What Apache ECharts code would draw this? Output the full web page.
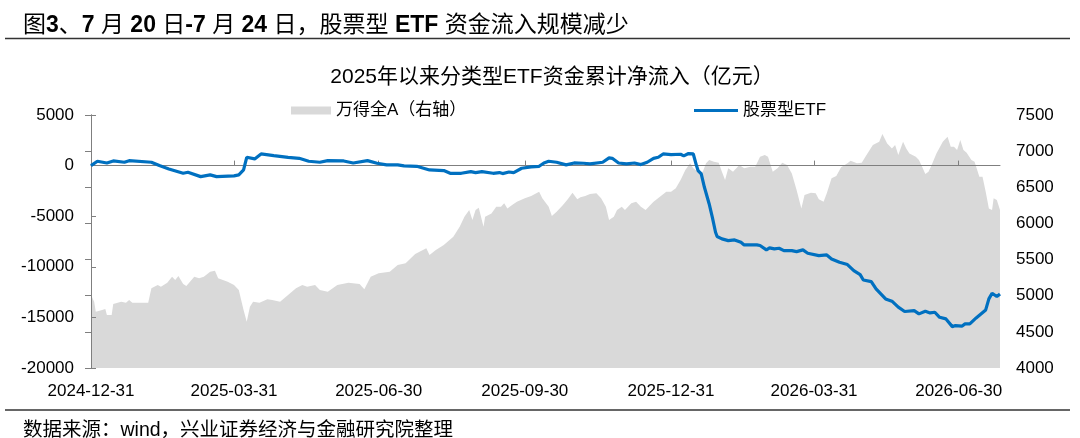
<!DOCTYPE html>
<html>
<head>
<meta charset="utf-8">
<script src="https://cdn.jsdelivr.net/npm/echarts@6/dist/echarts.min.js"></script>
<style>
html,body{margin:0;padding:0;background:#fff;}
#chart{width:1080px;height:438px;}
</style>
</head>
<body>
<div id="chart"></div>
<script>
// ---- data ----
const tickDates = ['2024-12-31','2025-03-31','2025-06-30','2025-09-30','2025-12-31','2026-03-31','2026-06-30'];
const axisStart = '2024-12-31';
const axisEnd = '2026-07-26';

// 股票型ETF 累计净流入（亿元，左轴）
const etfDates = [
 '2024-12-31','2025-01-04','2025-01-10','2025-01-14','2025-01-21','2025-01-24','2025-02-07','2025-02-12','2025-02-18','2025-02-27',
 '2025-03-02','2025-03-10','2025-03-16','2025-03-20','2025-03-31','2025-04-03','2025-04-06','2025-04-08','2025-04-13','2025-04-17',
 '2025-04-25','2025-05-04','2025-05-11','2025-05-17','2025-05-24','2025-05-29','2025-06-08','2025-06-14','2025-06-23','2025-06-29',
 '2025-07-05','2025-07-12','2025-07-16','2025-07-24','2025-08-01','2025-08-10','2025-08-14','2025-08-21','2025-08-27','2025-08-30',
 '2025-09-03','2025-09-10','2025-09-14','2025-09-16','2025-09-20','2025-09-23','2025-09-28','2025-10-04','2025-10-09','2025-10-12',
 '2025-10-15','2025-10-20','2025-10-26','2025-10-31','2025-11-06','2025-11-10','2025-11-18','2025-11-22','2025-11-24','2025-11-28',
 '2025-12-03','2025-12-08','2025-12-12','2025-12-16','2025-12-20','2025-12-23','2025-12-26','2025-12-31','2026-01-06','2026-01-08',
 '2026-01-11','2026-01-14','2026-01-16','2026-01-17','2026-01-19','2026-01-21','2026-01-24','2026-01-26','2026-01-28','2026-01-29',
 '2026-02-01','2026-02-05','2026-02-09','2026-02-13','2026-02-15','2026-02-23','2026-02-25','2026-03-01','2026-03-03','2026-03-06',
 '2026-03-09','2026-03-12','2026-03-17','2026-03-20','2026-03-24','2026-03-27','2026-04-03','2026-04-08','2026-04-11','2026-04-16',
 '2026-04-21','2026-04-25','2026-04-29','2026-05-01','2026-05-06','2026-05-09','2026-05-15','2026-05-19','2026-05-23','2026-05-27',
 '2026-06-02','2026-06-05','2026-06-09','2026-06-12','2026-06-15','2026-06-18','2026-06-22','2026-06-26','2026-06-28','2026-07-02',
 '2026-07-04','2026-07-07','2026-07-11','2026-07-17','2026-07-19','2026-07-21','2026-07-24','2026-07-26'
];
const etfValues = [
 0,430,260,460,330,490,330,0,-330,-760,
 -660,-1090,-920,-1090,-1020,-920,-430,820,660,1150,
 990,820,720,430,330,490,460,260,490,230,
 70,70,-30,-70,-430,-490,-760,-760,-590,-690,
 -590,-760,-690,-790,-630,-690,-260,-130,-70,260,
 430,330,70,260,230,165,330,760,720,260,
 165,260,100,330,720,820,1150,1090,1120,960,
 1190,1150,0,-490,-820,-2140,-3790,-5110,-6590,-7010,
 -7240,-7410,-7340,-7580,-7840,-7840,-7900,-8330,-8130,-8230,
 -8170,-8400,-8400,-8500,-8330,-8660,-8890,-8830,-9220,-9550,
 -9780,-10370,-10770,-11300,-11460,-12180,-13170,-13400,-13990,-14420,
 -14330,-14650,-14390,-14560,-14490,-14990,-15150,-15910,-15810,-15870,
 -15640,-15640,-15050,-14260,-13170,-12610,-12940,-12680
];

// 万得全A（右轴）
const indexDates = [
 '2024-12-31','2025-01-02','2025-01-03','2025-01-07','2025-01-09','2025-01-10','2025-01-13','2025-01-14','2025-01-19','2025-01-22',
 '2025-01-24','2025-01-26','2025-02-05','2025-02-07','2025-02-11','2025-02-13','2025-02-17','2025-02-20','2025-02-22','2025-02-24',
 '2025-02-27','2025-03-01','2025-03-06','2025-03-09','2025-03-12','2025-03-16','2025-03-19','2025-03-21','2025-03-27','2025-03-31',
 '2025-04-03','2025-04-06','2025-04-08','2025-04-10','2025-04-12','2025-04-16','2025-04-21','2025-04-24','2025-04-29','2025-05-04',
 '2025-05-09','2025-05-13','2025-05-16','2025-05-21','2025-05-24','2025-05-29','2025-06-04','2025-06-11','2025-06-18','2025-06-21',
 '2025-06-25','2025-06-30','2025-07-07','2025-07-12','2025-07-17','2025-07-23','2025-07-30','2025-08-01','2025-08-05','2025-08-10',
 '2025-08-16','2025-08-20','2025-08-23','2025-08-26','2025-08-28','2025-08-30','2025-09-01','2025-09-04','2025-09-05','2025-09-09',
 '2025-09-12','2025-09-15','2025-09-17','2025-09-19','2025-09-22','2025-09-25','2025-09-30','2025-10-04','2025-10-09','2025-10-11',
 '2025-10-15','2025-10-16','2025-10-17','2025-10-20','2025-10-24','2025-10-27','2025-10-30','2025-11-02','2025-11-04','2025-11-07',
 '2025-11-10','2025-11-14','2025-11-17','2025-11-20','2025-11-22','2025-11-25','2025-11-27','2025-11-30','2025-12-02','2025-12-06',
 '2025-12-09','2025-12-12','2025-12-15','2025-12-18','2025-12-20','2025-12-24','2025-12-28','2025-12-31','2026-01-03','2026-01-06',
 '2026-01-09','2026-01-12','2026-01-14','2026-01-17','2026-01-20','2026-01-22','2026-01-24','2026-01-27','2026-01-30','2026-02-01',
 '2026-02-03','2026-02-05','2026-02-08','2026-02-12','2026-02-15','2026-02-19','2026-02-22','2026-02-25','2026-02-28','2026-03-02',
 '2026-03-05','2026-03-08','2026-03-11','2026-03-14','2026-03-17','2026-03-20','2026-03-23','2026-03-25','2026-03-29','2026-04-01',
 '2026-04-03','2026-04-06','2026-04-08','2026-04-11','2026-04-14','2026-04-17','2026-04-21','2026-04-23','2026-04-27','2026-04-30',
 '2026-05-03','2026-05-07','2026-05-11','2026-05-13','2026-05-16','2026-05-19','2026-05-21','2026-05-23','2026-05-26','2026-05-28',
 '2026-05-30','2026-06-03','2026-06-05','2026-06-07','2026-06-09','2026-06-11','2026-06-13','2026-06-16','2026-06-20','2026-06-23',
 '2026-06-25','2026-06-27','2026-06-29','2026-07-01','2026-07-03','2026-07-05','2026-07-08','2026-07-10','2026-07-13','2026-07-15',
 '2026-07-17','2026-07-19','2026-07-21','2026-07-22','2026-07-24','2026-07-26'
];
const indexValues = [
 5010,4917,4779,4802,4816,4733,4733,4885,4917,4903,
 4940,4903,4903,5102,5148,5124,5180,5263,5217,5272,
 5162,5134,5263,5240,5263,5332,5346,5240,5194,5148,
 5079,4802,4640,4848,4917,4903,4950,4940,4917,5010,
 5102,5148,5124,5148,5079,5055,5148,5180,5162,5088,
 5263,5310,5332,5424,5448,5577,5655,5563,5632,5701,
 5816,5954,6093,6185,6047,6185,6217,5954,6093,6139,
 6231,6231,6278,6208,6254,6300,6347,6379,6438,6347,
 6231,6208,6102,6162,6254,6333,6424,6333,6361,6379,
 6406,6416,6347,6231,6047,6093,6185,6231,6185,6278,
 6300,6231,6185,6254,6300,6369,6438,6438,6485,6600,
 6738,6831,6762,6715,6715,6831,6877,6854,6840,6715,
 6600,6762,6715,6808,6762,6785,6785,6923,6946,6923,
 6715,6762,6840,6808,6692,6462,6208,6393,6424,6416,
 6333,6300,6416,6624,6655,6776,6831,6867,6831,6840,
 6946,7084,7130,7236,7107,7038,7084,6946,7130,7038,
 6969,6923,6877,6785,6683,6715,6808,6969,7130,7199,
 7061,7061,7015,7153,7015,6978,6877,6854,6646,6646,
 6438,6208,6185,6347,6324,6185
];

// ---- helpers ----
function dayOf(s){
  const p = s.split('-').map(Number);
  const a = axisStart.split('-').map(Number);
  return Math.round((Date.UTC(p[0],p[1]-1,p[2]) - Date.UTC(a[0],a[1]-1,a[2])) / 86400000);
}
function pairs(dates, vals){
  const n = Math.min(dates.length, vals.length);
  const out = [];
  for (let i = 0; i < n; i++) out.push([dayOf(dates[i]), vals[i]]);
  return out;
}
const tickDays = tickDates.map(dayOf);
const maxDay = dayOf(axisEnd);

const FONT = '"Liberation Sans", Arial, "Noto Sans CJK SC", sans-serif';
const AXIS_GRAY = '#7f7f7f';
const plain = function (v) { return String(v); };

const chart = echarts.init(document.getElementById('chart'));
chart.setOption({
  animation: false,
  backgroundColor: '#fff',
  textStyle: { fontFamily: FONT },
  title: [
    {
      left: 18, top: 7,
      text: '{n|图}{b|3}{n|、}{b|7 }{n|月 }{b|20 }{n|日}{b|-7 }{n|月 }{b|24 }{n|日，股票型 }{b|ETF }{n|资金流入规模减少}',
      textStyle: {
        rich: {
          n: { fontFamily: FONT, fontSize: 23, fontWeight: 'normal', color: '#000', lineHeight: 27 },
          b: { fontFamily: FONT, fontSize: 23, fontWeight: 'bold', color: '#000', lineHeight: 27 }
        }
      }
    },
    {
      left: 547, top: 61, textAlign: 'center',
      text: '2025年以来分类型ETF资金累计净流入（亿元）',
      textStyle: { fontFamily: FONT, fontSize: 21, fontWeight: 'normal', color: '#000', lineHeight: 23 }
    },
    {
      left: 18, top: 415,
      text: '数据来源：wind，兴业证券经济与金融研究院整理',
      textStyle: { fontFamily: FONT, fontSize: 19.5, fontWeight: 'normal', color: '#000', lineHeight: 22 }
    }
  ],
  graphic: [
    { type: 'line', shape: { x1: 5, y1: 38.5, x2: 1070, y2: 38.5 }, style: { stroke: '#333', lineWidth: 1.5 } },
    { type: 'line', shape: { x1: 5, y1: 410, x2: 1070, y2: 410 }, style: { stroke: '#333', lineWidth: 1.5 } }
  ],
  legend: [
    {
      left: 286, top: 97, icon: 'rect', itemWidth: 40, itemHeight: 8,
      data: ['万得全A（右轴）'],
      textStyle: { fontFamily: FONT, fontSize: 17, color: '#000' }
    },
    {
      left: 689, top: 97, icon: 'rect', itemWidth: 44, itemHeight: 3,
      data: ['股票型ETF'],
      textStyle: { fontFamily: FONT, fontSize: 17, color: '#000' }
    }
  ],
  grid: { left: 91, right: 80, top: 115, bottom: 70, containLabel: false },
  xAxis: [
    {
      type: 'value', min: 0, max: maxDay, z: 3,
      axisLine: { show: true, onZero: true, onZeroAxisIndex: 0, lineStyle: { color: AXIS_GRAY, width: 1 } },
      axisTick: { show: true, inside: true, length: 5, customValues: tickDays.slice(1), lineStyle: { color: AXIS_GRAY } },
      axisLabel: { show: false },
      splitLine: { show: false }
    },
    {
      type: 'value', min: 0, max: maxDay, position: 'bottom',
      axisLine: { show: false, onZero: false },
      axisTick: { show: false },
      axisLabel: {
        show: true, customValues: tickDays, showMinLabel: true, showMaxLabel: true,
        margin: 15, fontSize: 17, color: '#000', fontFamily: FONT,
        formatter: function (v) { const i = tickDays.indexOf(Math.round(v)); return i >= 0 ? tickDates[i] : ''; }
      },
      splitLine: { show: false }
    }
  ],
  yAxis: [
    {
      type: 'value', position: 'left', min: -20000, max: 5000, interval: 5000, z: 3,
      axisLine: { show: true, lineStyle: { color: AXIS_GRAY, width: 1 } },
      axisTick: { show: true, inside: true, length: 5, lineStyle: { color: AXIS_GRAY } },
      axisLabel: { margin: 17, fontSize: 17, color: '#000', fontFamily: FONT, formatter: plain },
      splitLine: { show: false }
    },
    {
      type: 'value', position: 'right', min: 4000, max: 7500, interval: 500, z: 3,
      axisLine: { show: true, lineStyle: { color: AXIS_GRAY, width: 1 } },
      axisTick: { show: true, inside: true, length: 6, lineStyle: { color: AXIS_GRAY } },
      axisLabel: { margin: 16, fontSize: 17, color: '#000', fontFamily: FONT, formatter: plain },
      splitLine: { show: false }
    }
  ],
  series: [
    {
      name: '万得全A（右轴）', type: 'line', xAxisIndex: 0, yAxisIndex: 1, z: 2,
      data: pairs(indexDates, indexValues),
      symbol: 'none', showSymbol: false,
      color: '#D9D9D9',
      lineStyle: { width: 0, color: '#D9D9D9' },
      areaStyle: { color: '#D9D9D9', opacity: 1, origin: 'start' }
    },
    {
      name: '股票型ETF', type: 'line', xAxisIndex: 0, yAxisIndex: 0, z: 5,
      data: pairs(etfDates, etfValues),
      symbol: 'none', showSymbol: false,
      color: '#0070C0',
      lineStyle: { width: 3.2, color: '#0070C0' }
    }
  ]
});
</script>
</body>
</html>
